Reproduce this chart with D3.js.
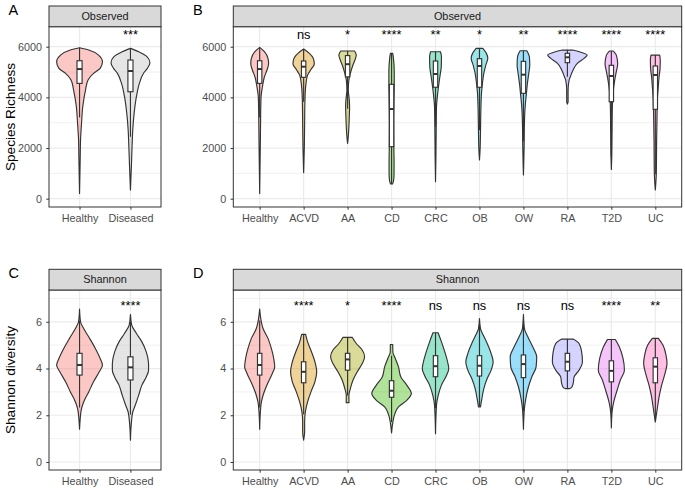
<!DOCTYPE html>
<html>
<head>
<meta charset="utf-8">
<script src="https://cdn.jsdelivr.net/npm/d3@7"></script>
<style>
  body { margin: 0; background: #fff; }
  text { font-family: "Liberation Sans", Arial, sans-serif; }
</style>
</head>
<body>
<svg id="chart" width="685" height="490"></svg>
<script>
// ---- groups and colours ----
var twoGroups = ["Healthy", "Diseased"];
var allGroups = ["Healthy", "ACVD", "AA", "CD", "CRC", "OB", "OW", "RA", "T2D", "UC"];
var allColors = ["#F8766D", "#D89000", "#A3A500", "#39B600", "#00BF7D",
                 "#00BFC4", "#00B0F6", "#9590FF", "#E76BF3", "#FF62BC"];
var twoColors = ["#F8766D", "#BDBDBD"];

// ---- Observed (species richness) ----
var richTicks = [0, 2000, 4000, 6000];
var richMinor = [1000, 3000, 5000];
var richDomain = [-328, 6790];
var richSigAt = 6290;

// panel A : value levels (top -> bottom) and relative violin width
var obsA_levels = [
  [5960, 5870, 5670, 5410, 5145, 4950, 4684, 4290, 3630, 2970, 2315, 1660, 210],
  [5934, 5800, 5605, 5368, 5145, 4950, 4552, 4026, 3368, 2710, 2050, 1263, 340]
];
var obsA_dens = [
  [0, 0.40, 0.83, 1, 0.9, 0.61, 0.37, 0.26, 0.14, 0.086, 0.043, 0.03, 0],
  [0, 0.36, 0.72, 0.85, 0.74, 0.57, 0.39, 0.26, 0.16, 0.1, 0.07, 0.04, 0]
];
// [lower whisker, q1, median, q3, upper whisker]
var obsA_box = [
  [3210, 4552, 5118, 5447, 5960],
  [2447, 4223, 5040, 5474, 5934]
];
var obsA_sig = ["", "***"];

// panel B
var obsB_levels = [
  [5975, 5800, 5540, 5340, 5080, 4815, 4420, 4025, 3370, 2315, 210],
  [5908, 5737, 5540, 5316, 5100, 4880, 4550, 3890, 2970, 2050, 1025],
  [5830, 5670, 5474, 5210, 4950, 4684, 4290, 3890, 3630, 3237, 2840, 2447, 2184],
  [5737, 5500, 5000, 4500, 4000, 3000, 2000, 1500, 1000, 700, 580],
  [5800, 5605, 5210, 4815, 4420, 4090, 3630, 2840, 1658, 670],
  [5934, 5737, 5540, 5276, 4950, 4552, 4158, 3368, 2578, 1920, 1526],
  [5842, 5605, 5276, 4950, 4552, 4158, 3631, 2973, 2052, 934],
  [5868, 5763, 5670, 5540, 5342, 5079, 4816, 4684, 4290, 3829, 3737],
  [5829, 5670, 5342, 5013, 4684, 4290, 3632, 2579, 1658, 1158],
  [5670, 5474, 5145, 4816, 4421, 3895, 3237, 2316, 1000, 342]
];
var obsB_dens = [
  [0, 0.25, 0.42, 0.45, 0.37, 0.24, 0.14, 0.07, 0.05, 0.035, 0],
  [0, 0.29, 0.49, 0.54, 0.37, 0.2, 0.12, 0.066, 0.05, 0.035, 0],
  [0.35, 0.44, 0.37, 0.24, 0.14, 0.066, 0.035, 0.086, 0.1, 0.086, 0.066, 0.035, 0],
  [0.06, 0.1, 0.136, 0.136, 0.126, 0.11, 0.116, 0.126, 0.126, 0.1, 0.05],
  [0.25, 0.3, 0.29, 0.22, 0.15, 0.1, 0.05, 0.035, 0.02, 0],
  [0.17, 0.35, 0.42, 0.32, 0.22, 0.15, 0.1, 0.066, 0.05, 0.03, 0],
  [0.17, 0.3, 0.32, 0.27, 0.2, 0.15, 0.086, 0.05, 0.035, 0],
  [0.25, 0.76, 1.0, 0.84, 0.5, 0.29, 0.15, 0.086, 0.035, 0.035, 0],
  [0.1, 0.25, 0.32, 0.25, 0.17, 0.1, 0.05, 0.035, 0.02, 0],
  [0.22, 0.25, 0.24, 0.19, 0.15, 0.1, 0.086, 0.066, 0.05, 0]
];
var obsB_box = [
  [3210, 4552, 5118, 5447, 5960],
  [3826, 4792, 5211, 5436, 5908],
  [3550, 4810, 5310, 5650, 5830],
  [580, 2053, 3541, 4516, 5737],
  [2841, 4398, 4923, 5436, 5800],
  [2705, 4398, 5239, 5527, 5934],
  [2264, 4160, 4896, 5424, 5842],
  [4815, 5370, 5582, 5740, 5868],
  [1676, 3830, 4844, 5266, 5829],
  [964, 3529, 4884, 5239, 5670]
];
var obsB_sig = ["", "ns", "*", "****", "**", "*", "**", "****", "****", "****"];

// ---- Shannon diversity ----
var shanTicks = [0, 2, 4, 6];
var shanMinor = [1, 3, 5, 7];
var shanDomain = [-0.342, 7.36];
var shanSigAt = 6.5;

var shaC_levels = [
  [6.54, 6.0, 5.71, 5.29, 4.86, 4.43, 4.14, 3.86, 3.43, 3.0, 2.57, 2.29, 1.86, 1.4],
  [6.31, 5.86, 5.5, 5.14, 4.71, 4.21, 3.93, 3.64, 3.29, 2.86, 2.43, 2.14, 1.71, 0.93]
];
var shaC_dens = [
  [0, 0.043, 0.18, 0.44, 0.69, 0.9, 1, 0.86, 0.61, 0.4, 0.18, 0.086, 0.03, 0],
  [0, 0.056, 0.26, 0.5, 0.69, 0.79, 0.79, 0.69, 0.5, 0.36, 0.21, 0.1, 0.043, 0]
];
var shaC_box = [
  [2.33, 3.72, 4.15, 4.65, 6.05],
  [2.03, 3.51, 4.05, 4.5, 5.99]
];
var shaC_sig = ["", "****"];

var shaD_levels = [
  [6.54, 5.71, 5.29, 4.86, 4.43, 4.07, 3.79, 3.36, 2.93, 2.57, 2.14, 1.4],
  [5.46, 5.14, 4.71, 4.29, 3.86, 3.43, 3.0, 2.57, 2.14, 1.71, 1.29, 0.93],
  [5.33, 5.07, 4.79, 4.5, 4.21, 3.86, 3.5, 3.14, 2.86, 2.54],
  [5.03, 4.71, 4.43, 4.07, 3.64, 3.29, 2.93, 2.64, 2.36, 2.07, 1.71, 1.24],
  [5.53, 5.14, 4.71, 4.29, 4.0, 3.71, 3.29, 2.86, 2.43, 1.21],
  [6.14, 5.71, 5.43, 5.07, 4.64, 4.29, 3.93, 3.57, 3.14, 2.71, 2.36],
  [6.31, 5.71, 5.36, 4.93, 4.5, 4.07, 3.64, 3.21, 2.71, 2.29, 1.4],
  [5.26, 5.07, 4.71, 4.29, 3.93, 3.64, 3.36, 3.2, 3.14],
  [5.24, 4.93, 4.43, 3.93, 3.5, 3.07, 2.57, 2.14, 1.46],
  [5.29, 5.0, 4.57, 4.21, 3.79, 3.29, 2.79, 2.29, 1.71]
];
var shaD_dens = [
  [0, 0.17, 0.42, 0.59, 0.71, 0.76, 0.64, 0.4, 0.2, 0.086, 0.035, 0],
  [0.1, 0.2, 0.4, 0.57, 0.66, 0.57, 0.37, 0.2, 0.086, 0.05, 0.05, 0],
  [0.24, 0.44, 0.74, 0.86, 0.74, 0.49, 0.27, 0.14, 0.066, 0.07],
  [0.06, 0.066, 0.19, 0.35, 0.47, 0.77, 1.0, 0.77, 0.35, 0.17, 0.066, 0],
  [0.13, 0.3, 0.47, 0.61, 0.67, 0.56, 0.3, 0.14, 0.05, 0],
  [0, 0.05, 0.19, 0.39, 0.59, 0.69, 0.59, 0.39, 0.22, 0.12, 0.05],
  [0, 0.05, 0.22, 0.47, 0.67, 0.64, 0.42, 0.25, 0.12, 0.05, 0],
  [0.29, 0.59, 0.72, 0.76, 0.59, 0.34, 0.29, 0.22, 0.12],
  [0.2, 0.4, 0.59, 0.66, 0.45, 0.29, 0.12, 0.035, 0],
  [0.15, 0.39, 0.54, 0.59, 0.49, 0.32, 0.19, 0.1, 0]
];
var shaD_box = [
  [2.33, 3.72, 4.15, 4.65, 6.05],
  [2.04, 3.39, 3.86, 4.29, 5.46],
  [2.85, 3.93, 4.39, 4.65, 5.33],
  [1.71, 2.77, 3.05, 3.48, 4.55],
  [2.3, 3.65, 4.1, 4.55, 5.53],
  [2.38, 3.68, 4.12, 4.55, 5.86],
  [2.16, 3.61, 4.19, 4.58, 6.03],
  [3.14, 3.9, 4.29, 4.65, 5.26],
  [2.08, 3.43, 3.9, 4.33, 5.24],
  [1.79, 3.39, 4.08, 4.46, 5.29]
];
var shaD_sig = ["", "****", "*", "****", "ns", "ns", "ns", "ns", "****", "**"];

////////////////////////////////////////////////////////////////////////

var svg = d3.select("#chart");
var dark = "#333333";
var lw = 1.15;

function drawPanel(p)
{
    var g = svg.append("g");
    var x = d3.scalePoint().domain(p.groups).range([p.left, p.right]).padding(0.6);
    var y = d3.scaleLinear().domain(p.domain).range([p.bottom, p.top]);
    var step = x.step();
    var w = d3.scaleLinear().domain([0, 1]).range([0, step * 0.45]);
    var bw = step * 0.1;

    g.append("rect")
        .attr("x", p.left).attr("y", p.top)
        .attr("width", p.right - p.left).attr("height", p.bottom - p.top)
        .attr("fill", "#fff");

    // grid
    g.selectAll(".minor").data(p.minor).enter().append("line")
        .attr("x1", p.left).attr("x2", p.right)
        .attr("y1", function(d) { return y(d); }).attr("y2", function(d) { return y(d); })
        .attr("stroke", "#ebebeb").attr("stroke-width", 0.7);
    g.selectAll(".major").data(p.ticks).enter().append("line")
        .attr("x1", p.left).attr("x2", p.right)
        .attr("y1", function(d) { return y(d); }).attr("y2", function(d) { return y(d); })
        .attr("stroke", "#ebebeb").attr("stroke-width", 1.2);
    g.selectAll(".vmajor").data(p.groups).enter().append("line")
        .attr("y1", p.top).attr("y2", p.bottom)
        .attr("x1", function(d) { return x(d); }).attr("x2", function(d) { return x(d); })
        .attr("stroke", "#ebebeb").attr("stroke-width", 1.2);

    // violins + boxes
    p.groups.forEach(function(grp, i) {
        var cx = x(grp);
        var pts = p.levels[i].map(function(v, j) { return { v: v, d: p.dens[i][j] }; });
        var area = d3.area()
            .y(function(d) { return y(d.v); })
            .x0(function(d) { return cx - w(d.d); })
            .x1(function(d) { return cx + w(d.d); })
            .curve(d3.curveMonotoneY);
        g.append("path")
            .attr("d", area(pts))
            .attr("fill", p.colors[i]).attr("fill-opacity", 0.4)
            .attr("stroke", dark).attr("stroke-width", lw)
            .attr("stroke-linejoin", "round");

        var b = p.box[i];
        g.append("line")
            .attr("x1", cx).attr("x2", cx).attr("y1", y(b[4])).attr("y2", y(b[0]))
            .attr("stroke", dark).attr("stroke-width", lw);
        g.append("rect")
            .attr("x", cx - bw / 2).attr("width", bw)
            .attr("y", y(b[3])).attr("height", y(b[1]) - y(b[3]))
            .attr("fill", "#fff").attr("stroke", dark).attr("stroke-width", lw);
        g.append("line")
            .attr("x1", cx - bw / 2).attr("x2", cx + bw / 2)
            .attr("y1", y(b[2])).attr("y2", y(b[2]))
            .attr("stroke", dark).attr("stroke-width", 2);

        if (p.sig[i]) {
            g.append("text")
                .attr("x", cx).attr("y", y(p.sigAt))
                .attr("text-anchor", "middle")
                .attr("font-size", 12.8).attr("fill", "#000")
                .text(p.sig[i]);
        }
    });

    // axes
    var ya = g.append("g").attr("transform", "translate(" + p.left + ",0)")
        .call(d3.axisLeft(y).tickValues(p.ticks).tickFormat(d3.format("d"))
              .tickSize(2.7).tickPadding(4.4));
    var xa = g.append("g").attr("transform", "translate(0," + p.bottom + ")")
        .call(d3.axisBottom(x).tickSize(2.7).tickPadding(4.5));
    [ya, xa].forEach(function(a) {
        a.select(".domain").remove();
        a.selectAll("line").attr("stroke", dark).attr("stroke-width", 1);
        a.selectAll("text").attr("fill", "#4d4d4d").attr("font-size", 10.8)
            .style("font-family", '"Liberation Sans", Arial, sans-serif');
    });

    // border and strip
    g.append("rect")
        .attr("x", p.left).attr("y", p.top)
        .attr("width", p.right - p.left).attr("height", p.bottom - p.top)
        .attr("fill", "none").attr("stroke", dark).attr("stroke-width", 1);
    g.append("rect")
        .attr("x", p.left).attr("y", p.stripTop)
        .attr("width", p.right - p.left).attr("height", p.top - p.stripTop)
        .attr("fill", "#d9d9d9").attr("stroke", dark).attr("stroke-width", 1);
    g.append("text")
        .attr("x", (p.left + p.right) / 2).attr("y", (p.top + p.stripTop) / 2)
        .attr("dy", "0.35em").attr("text-anchor", "middle")
        .attr("font-size", 10.9).attr("fill", "#1a1a1a")
        .text(p.strip);

    // panel letter
    g.append("text")
        .attr("x", p.letterX).attr("y", p.stripTop + 9)
        .attr("font-size", 14.5).attr("fill", "#000")
        .text(p.letter);
}

drawPanel({ groups: twoGroups, colors: twoColors, left: 49, right: 161, stripTop: 6, top: 26.7, bottom: 207,
            domain: richDomain, ticks: richTicks, minor: richMinor, levels: obsA_levels, dens: obsA_dens,
            box: obsA_box, sig: obsA_sig, sigAt: richSigAt, strip: "Observed", letter: "A", letterX: 8.5 });
drawPanel({ groups: allGroups, colors: allColors, left: 233.3, right: 681.7, stripTop: 6, top: 26.7, bottom: 207,
            domain: richDomain, ticks: richTicks, minor: richMinor, levels: obsB_levels, dens: obsB_dens,
            box: obsB_box, sig: obsB_sig, sigAt: richSigAt, strip: "Observed", letter: "B", letterX: 193 });
drawPanel({ groups: twoGroups, colors: twoColors, left: 49, right: 161, stripTop: 269.3, top: 290, bottom: 470,
            domain: shanDomain, ticks: shanTicks, minor: shanMinor, levels: shaC_levels, dens: shaC_dens,
            box: shaC_box, sig: shaC_sig, sigAt: shanSigAt, strip: "Shannon", letter: "C", letterX: 8.5 });
drawPanel({ groups: allGroups, colors: allColors, left: 233.3, right: 681.7, stripTop: 269.3, top: 290, bottom: 470,
            domain: shanDomain, ticks: shanTicks, minor: shanMinor, levels: shaD_levels, dens: shaD_dens,
            box: shaD_box, sig: shaD_sig, sigAt: shanSigAt, strip: "Shannon", letter: "D", letterX: 193 });

// y axis titles
svg.append("text")
    .attr("transform", "translate(15,117) rotate(-90)")
    .attr("text-anchor", "middle").attr("font-size", 13.6).attr("fill", "#000")
    .text("Species Richness");
svg.append("text")
    .attr("transform", "translate(15,380) rotate(-90)")
    .attr("text-anchor", "middle").attr("font-size", 13.6).attr("fill", "#000")
    .text("Shannon diversity");
</script>
</body>
</html>
